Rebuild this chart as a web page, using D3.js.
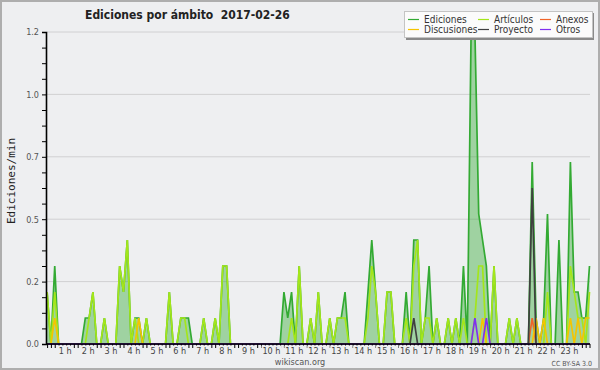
<!DOCTYPE html>
<html><head><meta charset="utf-8">
<script src="https://cdn.jsdelivr.net/npm/d3@7"></script>
<style>
body{margin:0;background:#fff}
svg{display:block}
text{font-family:"DejaVu Sans Condensed","DejaVu Sans",sans-serif}
</style>
</head><body>
<svg id="chart" width="600" height="370"></svg>
<script>
// ---------- data ----------
const chartTitle = "Ediciones por ámbito  2017-02-26";
const yAxisLabel = "Ediciones/min";
const hourLabels = ["1 h","2 h","3 h","4 h","5 h","6 h","7 h","8 h","9 h","10 h","11 h","12 h",
  "13 h","14 h","15 h","16 h","17 h","18 h","19 h","20 h","21 h","22 h","23 h"];
const seriesNames = ["Ediciones","Artículos","Anexos","Discusiones","Proyecto","Otros"];
const yTickValues = [0, 0.24, 0.48, 0.72, 0.96, 1.2];

// one value per 10-minute slot (edits per minute)
const ediciones = [
0.2,0,0.3,0,0,0,0,0,0,0,
0.1,0.1,0.2,0,0,0.1,0,0,0,0.3,
0.2,0.4,0,0.1,0.1,0,0.1,0,0,0,
0,0,0.2,0,0,0.1,0.1,0.1,0,0,
0,0.1,0,0,0.1,0,0.3,0.3,0,0,
0,0,0,0,0,0,0,0,0,0,
0,0,0.2,0.1,0.2,0,0.3,0,0,0.1,
0,0.2,0,0,0.1,0,0.1,0.1,0.2,0,
0,0,0,0,0.2,0.4,0.2,0,0,0.2,
0.2,0,0,0,0.2,0,0.4,0.4,0,0.1,
0.3,0,0.1,0,0,0.1,0,0.1,0,0.3,
0,1.2,1.2,0.5,0.4,0.3,0,0.3,0,0,
0,0.1,0,0.1,0,0,0,0.7,0.1,0,
0.1,0.5,0,0,0.4,0,0,0.7,0.2,0.2,
0.1,0.1,0.3];
const articulos = [
0.2,0,0.2,0,0,0,0,0,0,0,
0,0.1,0.2,0,0,0.1,0,0,0,0.3,
0.2,0.4,0,0.1,0,0,0.1,0,0,0,
0,0,0.2,0,0,0.1,0.1,0,0,0,
0,0.1,0,0,0.1,0,0.3,0.3,0,0,
0,0,0,0,0,0,0,0,0,0,
0,0,0,0,0.1,0,0.3,0,0,0.1,
0,0.2,0,0,0.1,0,0.1,0.1,0.1,0,
0,0,0,0,0.1,0.3,0.2,0,0,0.2,
0.2,0,0,0,0.1,0,0.3,0.4,0,0.1,
0.1,0,0.1,0,0,0.1,0,0.1,0,0.1,
0,0,0.1,0.3,0.3,0,0,0.3,0,0,
0,0.1,0,0.1,0,0,0,0,0,0,
0,0.2,0,0,0,0,0,0.3,0.2,0.1,
0.1,0,0.2];
const anexos = [
0,0,0,0,0,0,0,0,0,0, 0,0,0,0,0,0,0,0,0,0, 0,0,0,0,0,0,0,0,0,0,
0,0,0,0,0,0,0,0,0,0, 0,0,0,0,0,0,0,0,0,0, 0,0,0,0,0,0,0,0,0,0,
0,0,0,0,0,0,0,0,0,0, 0,0,0,0,0,0,0,0,0,0, 0,0,0,0,0,0,0,0,0,0,
0,0,0,0,0,0,0,0,0,0, 0,0,0,0,0,0,0,0,0,0, 0,0,0,0,0,0,0,0,0,0,
0,0,0,0,0,0,0,0.1,0,0, 0,0,0,0,0,0,0,0,0,0, 0,0,0];
const discusiones = [
0,0,0.1,0,0,0,0,0,0,0, 0,0,0,0,0,0,0,0,0,0, 0,0,0,0,0.1,0,0,0,0,0,
0,0,0,0,0,0,0,0,0,0, 0,0,0,0,0,0,0,0,0,0, 0,0,0,0,0,0,0,0,0,0,
0,0,0,0,0,0,0,0,0,0, 0,0,0,0,0,0,0,0,0,0, 0,0,0,0,0,0,0,0,0,0,
0,0,0,0,0,0,0,0,0,0, 0,0,0,0,0,0,0,0,0,0, 0,0,0,0,0.1,0,0,0,0,0,
0,0,0,0,0,0,0,0,0.1,0, 0.1,0,0,0,0,0,0,0.1,0,0.1, 0,0.1,0.1];
const proyecto = [
0,0,0,0,0,0,0,0,0,0, 0,0,0,0,0,0,0,0,0,0, 0,0,0,0,0,0,0,0,0,0,
0,0,0,0,0,0,0,0,0,0, 0,0,0,0,0,0,0,0,0,0, 0,0,0,0,0,0,0,0,0,0,
0,0,0,0,0,0,0,0,0,0, 0,0,0,0,0,0,0,0,0,0, 0,0,0,0,0,0,0,0,0,0,
0,0,0,0,0,0,0.1,0,0,0, 0,0,0,0,0,0,0,0,0,0, 0,0,0,0,0,0,0,0,0,0,
0,0,0,0,0,0,0,0.6,0,0, 0,0,0,0,0,0,0,0,0,0, 0,0,0];
const otros = [
0,0,0,0,0,0,0,0,0,0, 0,0,0,0,0,0,0,0,0,0, 0,0,0,0,0,0,0,0,0,0,
0,0,0,0,0,0,0,0,0,0, 0,0,0,0,0,0,0,0,0,0, 0,0,0,0,0,0,0,0,0,0,
0,0,0,0,0,0,0,0,0,0, 0,0,0,0,0,0,0,0,0,0, 0,0,0,0,0,0,0,0,0,0,
0,0,0,0,0,0,0,0,0,0, 0,0,0,0,0,0,0,0,0,0, 0,0,0.1,0,0,0.1,0,0,0,0,
0,0,0,0,0,0,0,0,0,0, 0,0,0,0,0,0,0,0,0,0, 0,0,0];

// ---------- drawing ----------
const colors = {
  "Ediciones":"#33aa33","Artículos":"#a4e61a","Anexos":"#f06428",
  "Discusiones":"#f5c400","Proyecto":"#404040","Otros":"#8030f0"};
const seriesData = {
  "Ediciones":ediciones,"Artículos":articulos,"Anexos":anexos,
  "Discusiones":discusiones,"Proyecto":proyecto,"Otros":otros};
const BG = "#eeeff1";

const svg = d3.select("#chart");
svg.append("rect").attr("x",1).attr("y",1).attr("width",598).attr("height",368)
  .attr("fill",BG).attr("stroke","#aeaeae").attr("stroke-width",2);

const n = ediciones.length;
const x = d3.scaleLinear().domain([0, n-1]).range([47.1, 589.5]);
const y = d3.scaleLinear().domain([0, 1.2]).range([344, 32]);

// grid
svg.append("g").selectAll("line").data(yTickValues.slice(1)).join("line")
  .attr("x1",47).attr("x2",590).attr("y1",d=>y(d)).attr("y2",d=>y(d))
  .attr("stroke","#d0d0d2").attr("stroke-width",1);

// area + lines
const area = d3.area().x((d,i)=>x(i)).y0(y(0)).y1(d=>y(d));
const line = d3.line().x((d,i)=>x(i)).y(d=>y(d));
svg.append("path").datum(ediciones).attr("d",area)
  .attr("fill","rgba(51,170,51,0.42)");
const drawOrder = ["Ediciones","Artículos","Anexos","Discusiones","Proyecto","Otros"];
drawOrder.forEach(name=>{
  svg.append("path").datum(seriesData[name]).attr("d",line)
    .attr("fill","none").attr("stroke",colors[name])
    .attr("stroke-width",1.7).attr("stroke-linejoin","miter");
});

// y axis
const yMinor = d3.range(0,21).map(k=>k*0.06);
const yAxis = d3.axisLeft(y).tickValues(yMinor).tickSize(4).tickPadding(3)
  .tickFormat((d,i)=> i%4===0 ? d.toFixed(1) : "");
const gy = svg.append("g").attr("transform","translate(46,0)").call(yAxis);
gy.select(".domain").attr("stroke","#000").attr("stroke-width",1.6);
gy.selectAll(".tick line").attr("stroke","#000");
gy.selectAll(".tick text").attr("fill","#555").attr("font-size",9)
  .style("font-family",'"DejaVu Sans Condensed","DejaVu Sans",sans-serif');

// x axis
const xAxis = d3.axisBottom(x).tickValues(d3.range(0,n)).tickSize(4).tickFormat("");
const gx = svg.append("g").attr("transform","translate(0,344)").call(xAxis);
gx.select(".domain").attr("stroke","#000").attr("stroke-width",1.6)
  .attr("d","M46,0H590");
gx.selectAll(".tick line").attr("stroke","#000");

// hour labels (with background hiding ticks)
const hl = svg.append("g");
hourLabels.forEach((lab,k)=>{
  const idx = 6*(k+1)-1;
  const t = hl.append("text").attr("x",x(idx)-1).attr("y",354)
    .attr("text-anchor","middle").attr("font-size",9).attr("fill","#444").text(lab);
  const bb = t.node().getBBox();
  hl.insert("rect","text").attr("x",bb.x-1).attr("y",345.5).attr("width",bb.width+2)
    .attr("height",10).attr("fill",BG);
});

// y label
svg.append("text").attr("transform","translate(15,181) rotate(-90)")
  .attr("text-anchor","middle").attr("font-size",11).attr("fill","#222")
  .style("font-family",'"DejaVu Sans Mono",monospace').text(yAxisLabel);

// title
svg.append("text").attr("x",85).attr("y",19).attr("font-size",12)
  .attr("font-weight","bold").attr("fill","#222")
  .attr("xml:space","preserve").style("white-space","pre").text(chartTitle);

// footer
svg.append("text").attr("x",300).attr("y",365).attr("text-anchor","middle")
  .attr("font-size",9).attr("fill","#555").text("wikiscan.org");
svg.append("text").attr("x",592).attr("y",366).attr("text-anchor","end")
  .attr("font-size",7).attr("fill","#555").text("CC BY-SA 3.0");

// legend
const lg = svg.append("g");
lg.append("rect").attr("x",406).attr("y",13).attr("width",188).attr("height",27).attr("fill","#8a8a8a");
lg.append("rect").attr("x",404.5).attr("y",11.5).attr("width",188).attr("height",26)
  .attr("fill","#fbfbfb").attr("stroke","#c4c4c4");
const legendItems = [
  {name:"Ediciones",col:0,row:0},{name:"Artículos",col:1,row:0},{name:"Anexos",col:2,row:0},
  {name:"Discusiones",col:0,row:1},{name:"Proyecto",col:1,row:1},{name:"Otros",col:2,row:1}];
const colX = [408, 478, 540];
const rowY = [19.5, 29.5];
legendItems.forEach(it=>{
  const lx = colX[it.col], ly = rowY[it.row];
  lg.append("line").attr("x1",lx).attr("x2",lx+11).attr("y1",ly).attr("y2",ly)
    .attr("stroke",colors[it.name]).attr("stroke-width",1.2);
  lg.append("text").attr("x",lx+16).attr("y",ly+3.5).attr("font-size",10)
    .attr("fill","#333").text(it.name);
});
</script>
</body></html>
